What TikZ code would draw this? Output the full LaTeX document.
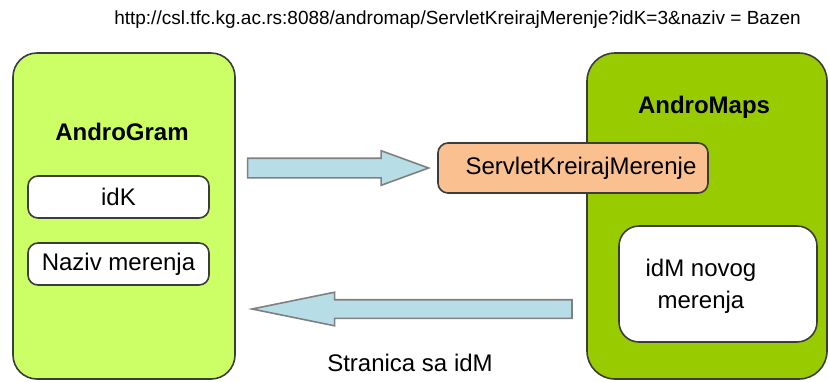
\documentclass[tikz,border=0pt]{standalone}
\usepackage{fontspec}
\setmainfont{Liberation Sans}
\usepackage{xcolor}
\usepackage{tikz}
\usetikzlibrary{shapes,positioning}
\definecolor{limefill}{RGB}{204,255,102}
\definecolor{olivefill}{RGB}{153,204,0}
\definecolor{peachfill}{RGB}{250,192,144}
\definecolor{cyanfill}{RGB}{183,222,230}
\definecolor{edgegray}{RGB}{60,60,60}
\tikzset{app/.style={rectangle,rounded corners=12pt,draw=edgegray,thick,minimum width=111pt,minimum height=163pt,inner sep=0pt},
  field/.style={rectangle,rounded corners=5pt,draw=edgegray,fill=white,thick,minimum width=90.5pt,minimum height=21pt,inner sep=0pt,font=\fontsize{12}{14}\selectfont},
  txt/.style={inner sep=0pt,font=\fontsize{12}{16}\selectfont},
  blk/.style={single arrow,draw=gray,fill=cyanfill,thick,inner xsep=0pt,inner ysep=4.5pt,single arrow head extend=3.75pt,anchor=tip}}

\begin{document}
\begin{tikzpicture}[x=0.5pt,y=-0.5pt]
        \useasboundingbox (0,0) rectangle (829,381);
        \node[app,fill=limefill] (gram)at (124,216) {};
        \node[app,fill=olivefill,minimum width=120pt,rounded corners=14pt] (maps)at (707,216) {};

        \node[txt,font=\fontsize{12}{14}\selectfont\bfseries] (gramt)at (122,132) {AndroGram};
        \node[txt,font=\fontsize{12}{14}\selectfont\bfseries] (mapst)at (704,107) {AndroMaps};
        \node[field] (idk)at (118.5,197) {idK};
        \node[field] (naziv)at (118.5,264) {Naziv merenja};
        \node[field,minimum width=135pt,minimum height=25pt,fill=peachfill] (servlet)at (573,168) {\hspace{8pt}ServletKreirajMerenje};
        \node[field,minimum width=99pt,minimum height=58pt,rounded corners=10pt] (idm)at (718,284) {};
        \node[txt,align=center] (idmt)at (701,286) {idM novog\\merenja};

        \node[blk,minimum height=90.5pt,single arrow tip angle=40] (req)at (431,168) {};
        \node[blk,minimum height=160pt,single arrow tip angle=23,shape border rotate=180,inner ysep=4.25pt] (resp)at (248,309) {};

        \node[txt,font=\fontsize{9.5}{12}\selectfont] (url)at (457.5,20) {http://csl.tfc.kg.ac.rs:8088/andromap/ServletKreirajMerenje?idK=3\&naziv = Bazen};
        \node[txt] (strana)at (410,363) {Stranica sa idM};
    \end{tikzpicture}
\end{document}
